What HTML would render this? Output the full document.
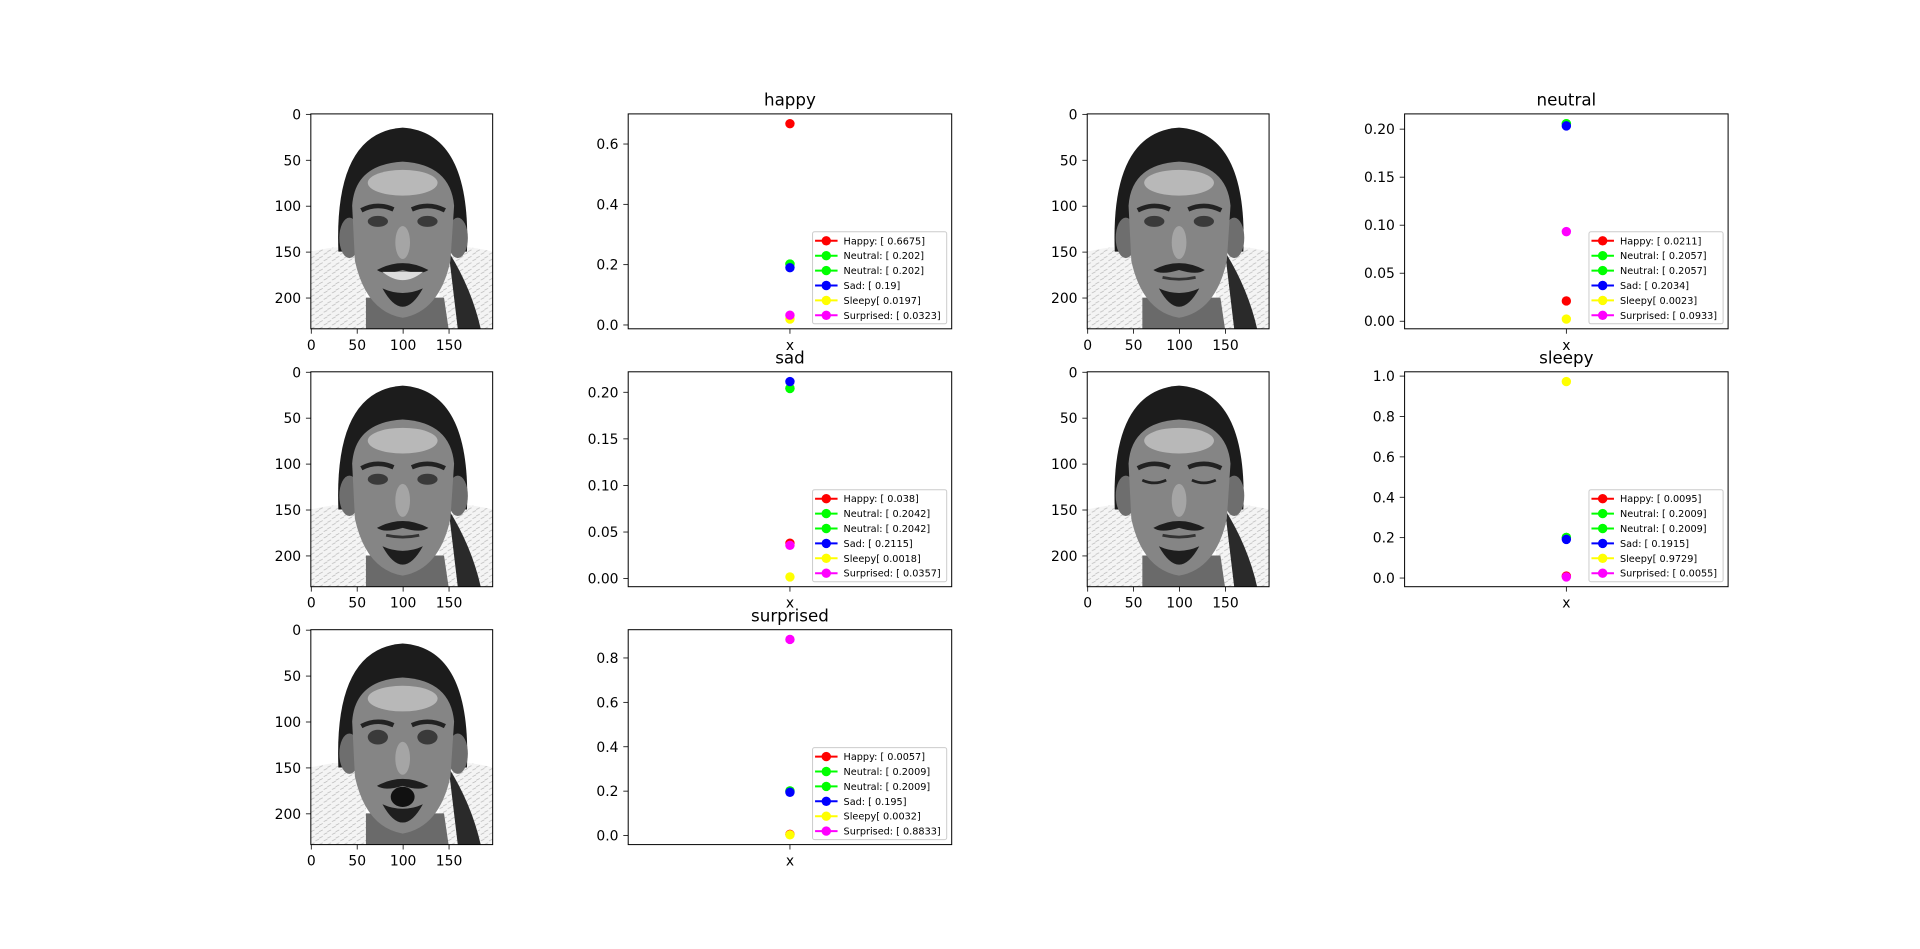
<!DOCTYPE html>
<html><head><meta charset="utf-8"><style>
html,body{margin:0;padding:0;background:#fff;}
svg{display:block;font-family:"DejaVu Sans","Liberation Sans",sans-serif;}
</style></head><body>
<svg id="fig" width="1920" height="949" viewBox="0 0 1920 949" xmlns="http://www.w3.org/2000/svg">
<defs>
<pattern id="tex" width="9" height="7" patternUnits="userSpaceOnUse">
<rect width="9" height="7" fill="#f4f4f4"/><path d="M0 3 L4 1 M5 6 L9 4" stroke="#b8b8b8" stroke-width="0.8"/>
</pattern>
</defs>
</svg>
<script>
// ---- data ----
const chartTitles = ["happy","neutral","sad","sleepy","surprised"];
const seriesPrefixes = ["Happy: ","Neutral: ","Neutral: ","Sad: ","Sleepy","Surprised: "];
const seriesColors = ["#ff0000","#00ff00","#00ff00","#0000ff","#ffff00","#ff00ff"];
const happyValues = [0.6675,0.202,0.202,0.19,0.0197,0.0323];
const neutralValues = [0.0211,0.2057,0.2057,0.2034,0.0023,0.0933];
const sadValues = [0.038,0.2042,0.2042,0.2115,0.0018,0.0357];
const sleepyValues = [0.0095,0.2009,0.2009,0.1915,0.9729,0.0055];
const surprisedValues = [0.0057,0.2009,0.2009,0.195,0.0032,0.8833];
const xCategories = ["x"];
const imageXTicks = [0,50,100,150];
const imageYTicks = [0,50,100,150,200];

const NS="http://www.w3.org/2000/svg";
const fig=document.getElementById('fig');
function mk(tag,attrs,parent){const e=document.createElementNS(NS,tag);for(const k in attrs)e.setAttribute(k,attrs[k]);(parent||fig).appendChild(e);return e;}

const colL=[240,628.2,1016.4,1404.6], colW=323.5;
const rowT=[113.9,371.8,629.7], rowH=214.9;

function drawImage(ci,ri,kind){
  const W=198,H=234;
  const h=rowH, w=h*W/H;
  const x0=colL[ci]+(colW-w)/2, y0=rowT[ri];
  const sx=v=>x0+(v+0.5)*w/W, sy=v=>y0+(v+0.5)*h/H;
  const g=mk('g',{});
  
  
  const inner=mk('g',{transform:`translate(${x0},${y0}) scale(${w/W},${h/H})`},g);
  mk('rect',{x:0,y:0,width:W,height:H,fill:'#ffffff'},inner);
  mk('path',{d:'M0 150 Q40 140 60 150 L60 234 L0 234 Z',fill:'url(#tex)'},inner);
  mk('path',{d:'M198 150 Q160 140 140 150 L140 234 L198 234 Z',fill:'url(#tex)'},inner);
  mk('path',{d:'M150 150 Q175 190 185 234 L160 234 Z',fill:'#2a2a2a'},inner);
  mk('path',{d:'M30 150 Q25 20 100 15 Q175 20 170 150 Z',fill:'#1c1c1c'},inner);
  mk('path',{d:'M60 200 L60 234 L150 234 L145 200 Z',fill:'#6a6a6a'},inner);
  mk('ellipse',{cx:42,cy:135,rx:11,ry:22,fill:'#6e6e6e'},inner);
  mk('ellipse',{cx:160,cy:135,rx:11,ry:22,fill:'#6e6e6e'},inner);
  mk('path',{d:'M45 100 Q48 55 100 52 Q152 55 156 100 L152 160 Q140 215 100 222 Q60 215 48 160 Z',fill:'#858585'},inner);
  mk('ellipse',{cx:100,cy:75,rx:38,ry:14,fill:'#b8b8b8'},inner);
  mk('ellipse',{cx:100,cy:140,rx:8,ry:18,fill:'#a5a5a5'},inner);
  mk('path',{d:'M55 105 Q72 96 90 104',stroke:'#222',fill:'none','stroke-width':5},inner);
  mk('path',{d:'M110 104 Q128 96 146 105',stroke:'#222',fill:'none','stroke-width':5},inner);
  if(kind==='sleepy'){
    mk('path',{d:'M60 118 Q73 124 86 118',stroke:'#222',fill:'none','stroke-width':3},inner);
    mk('path',{d:'M114 118 Q127 124 140 118',stroke:'#222',fill:'none','stroke-width':3},inner);
  } else {
    const r=kind==='surprised'?8:6;
    mk('ellipse',{cx:73,cy:117,rx:11,ry:r,fill:'#3a3a3a'},inner);
    mk('ellipse',{cx:127,cy:117,rx:11,ry:r,fill:'#3a3a3a'},inner);
  }
  mk('path',{d:'M72 170 Q100 155 128 170 Q120 176 100 170 Q80 176 72 170 Z',fill:'#1e1e1e'},inner);
  if(kind==='surprised') mk('ellipse',{cx:100,cy:182,rx:13,ry:11,fill:'#111'},inner);
  else if(kind==='happy') mk('path',{d:'M78 172 Q100 190 122 172 Z',fill:'#dddddd'},inner);
  else mk('path',{d:'M82 178 Q100 182 118 178',stroke:'#333',fill:'none','stroke-width':3},inner);
  mk('path',{d:'M78 190 Q100 230 122 190 Q100 200 78 190 Z',fill:'#1e1e1e'},inner);
  mk('rect',{x:x0,y:y0,width:w,height:h,fill:'none',stroke:'#000','stroke-width':1},g);
  imageXTicks.forEach(t=>{const X=sx(t);
    mk('line',{x1:X,x2:X,y1:y0+h,y2:y0+h+4.9,stroke:'#000','stroke-width':0.8},g);
    const tx=mk('text',{x:X,y:y0+h+21,'text-anchor':'middle','font-size':13.9,fill:'#000'},g);tx.textContent=t;});
  imageYTicks.forEach(t=>{const Y=sy(t);
    mk('line',{x1:x0,x2:x0-4.9,y1:Y,y2:Y,stroke:'#000','stroke-width':0.8},g);
    const tx=mk('text',{x:x0-9.7,y:Y+5,'text-anchor':'end','font-size':13.9,fill:'#000'},g);tx.textContent=t;});
}

function niceStep(range){
  const raw=range/6, p=Math.pow(10,Math.floor(Math.log10(raw)));
  for(const m of [1,2,5,10]){if(m*p>=raw-1e-12)return m*p;}
  return 10*p;
}

function drawChart(ci,ri,title,values){
  const x0=colL[ci], y0=rowT[ri], w=colW, h=rowH;
  let mn=Math.min(...values), mx=Math.max(...values);
  const m=(mx-mn)*0.05; const lo=mn-m, hi=mx+m;
  const yS=v=>y0+h-(v-lo)/(hi-lo)*h;
  const xS=i=>x0+w/2+i*0;
  const g=mk('g',{});
  
  
  mk('rect',{x:x0,y:y0,width:w,height:h,fill:'#fff',stroke:'#000','stroke-width':1},g);
  const tt=mk('text',{x:x0+w/2,y:y0-8.3,'text-anchor':'middle','font-size':16.7,fill:'#000'},g);
  tt.textContent=title;
  
  
  const step=niceStep(hi-lo);
  const dec=Math.max(1,-Math.floor(Math.log10(step)+1e-9));
  for(let k=Math.ceil(lo/step-1e-9);k*step<=hi+1e-9;k++){
    const t=k*step, Y=yS(t);
    mk('line',{x1:x0,x2:x0-4.9,y1:Y,y2:Y,stroke:'#000','stroke-width':0.8},g);
    const tx=mk('text',{x:x0-9.7,y:Y+5,'text-anchor':'end','font-size':13.9,fill:'#000'},g);
    tx.textContent=(Math.abs(t)<1e-9?0:t).toFixed(dec);
  }
  xCategories.forEach((c,i)=>{const X=xS(i);
    mk('line',{x1:X,x2:X,y1:y0+h,y2:y0+h+4.9,stroke:'#000','stroke-width':0.8},g);
    const tx=mk('text',{x:X,y:y0+h+21,'text-anchor':'middle','font-size':13.9,fill:'#000'},g);tx.textContent=c;});
  values.forEach((v,i)=>{
    const c=mk('circle',{cx:xS(0),cy:yS(v),r:4.7,fill:seriesColors[i]},g);
    
    
  });
  const lg=mk('g',{},g);
  
  
  const box=mk('rect',{fill:'#fff','fill-opacity':0.8,stroke:'#ccc','stroke-width':1,rx:2},lg);
  const texts=[];
  values.forEach((v,i)=>{
    const e=mk('g',{},lg);
    
    
    const t=mk('text',{'font-size':9.7,fill:'#000'},e);
    t.textContent=seriesPrefixes[i]+'[ '+v+']';
    texts.push([e,t,i]);
  });
  let tw=0; texts.forEach(([e,t])=>{tw=Math.max(tw,t.getComputedTextLength());});
  const bw=31+tw+6, bh=92;
  const bx=x0+w-5-bw, by=y0+h-5-bh;
  box.setAttribute('x',bx);box.setAttribute('y',by);box.setAttribute('width',bw);box.setAttribute('height',bh);
  texts.forEach(([e,t,i])=>{
    const cy=by+9+i*14.9;
    mk('line',{x1:bx+2.5,x2:bx+25,y1:cy,y2:cy,stroke:seriesColors[i],'stroke-width':2},e);
    mk('circle',{cx:bx+13.7,cy:cy,r:4.7,fill:seriesColors[i]},e);
    t.setAttribute('x',bx+31);t.setAttribute('y',cy+3.5);
    e.appendChild(t);
  });
}

drawImage(0,0,'happy');   drawChart(1,0,chartTitles[0],happyValues);
drawImage(2,0,'neutral'); drawChart(3,0,chartTitles[1],neutralValues);
drawImage(0,1,'sad');     drawChart(1,1,chartTitles[2],sadValues);
drawImage(2,1,'sleepy');  drawChart(3,1,chartTitles[3],sleepyValues);
drawImage(0,2,'surprised'); drawChart(1,2,chartTitles[4],surprisedValues);
</script>
</body></html>
